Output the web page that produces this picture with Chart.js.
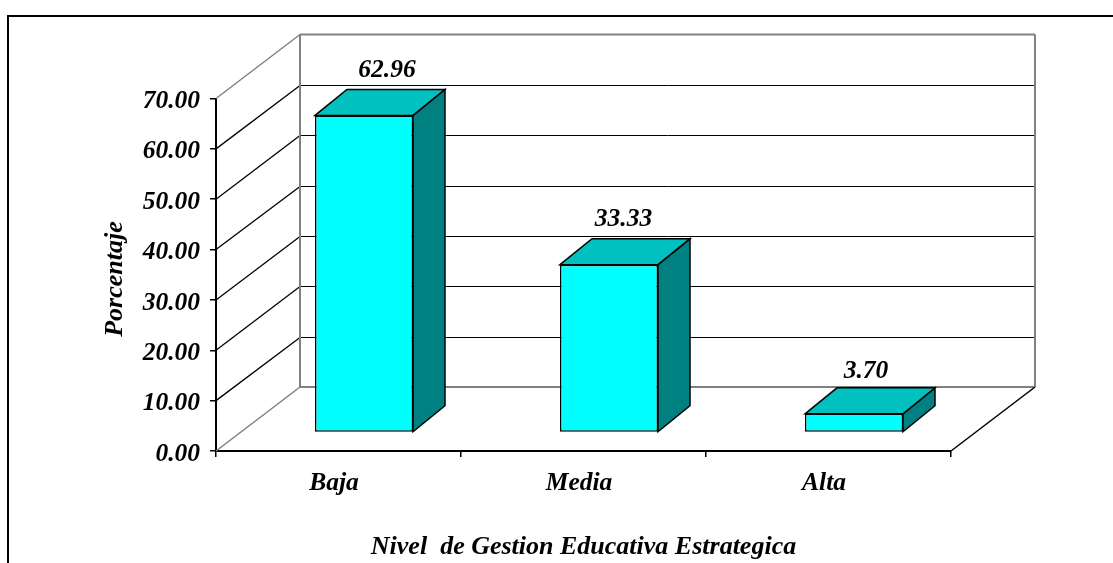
<!DOCTYPE html>
<html>
<head>
<meta charset="utf-8">
<style>
  html, body { margin: 0; padding: 0; background: #fff; overflow: hidden; }
  #wrap { position: relative; width: 1113px; height: 563px; }
</style>
<script src="https://cdn.jsdelivr.net/npm/chart.js@4"></script>
</head>
<body>
<div id="wrap"><canvas id="chart" width="1113" height="563"></canvas></div>
<script>
const categories = ['Baja', 'Media', 'Alta'];
const percentages = [62.96, 33.33, 3.70];
const yTicks = [0, 10, 20, 30, 40, 50, 60, 70];

const FONT = '"Liberation Serif", "Times New Roman", serif';

// fake 3D: how far things recede from the front plane
const wallDepth = { x: 84, y: 64 };
const barShift = { x: 25.5, y: 18.5 };
const barDepth = { x: 32, y: 26 };
const labelNudge = [23, 14.5, 12];
const labelRise = [19.5, 19.5, 16];

const line = (ctx, x1, y1, x2, y2, color, width) => {
    ctx.beginPath();
    ctx.moveTo(x1, y1);
    ctx.lineTo(x2, y2);
    ctx.strokeStyle = color;
    ctx.lineWidth = width;
    ctx.stroke();
};

const poly = (ctx, pts, fill) => {
    ctx.beginPath();
    pts.forEach((p, i) => i ? ctx.lineTo(p[0], p[1]) : ctx.moveTo(p[0], p[1]));
    ctx.closePath();
    ctx.fillStyle = fill;
    ctx.fill();
    ctx.strokeStyle = '#000';
    ctx.lineWidth = 1.5;
    ctx.stroke();
};

const box3d = {
    id: 'box3d',
    beforeDraw(chart) {
        const ctx = chart.ctx;
        ctx.save();
        ctx.strokeStyle = '#000';
        ctx.lineWidth = 2;
        ctx.beginPath();
        ctx.moveTo(8, 563);
        ctx.lineTo(8, 16);
        ctx.lineTo(1113, 16);
        ctx.stroke();
        ctx.restore();
    },
    beforeDatasetsDraw(chart) {
        const { ctx, scales: { x, y } } = chart;
        const dx = wallDepth.x, dy = wallDepth.y;
        ctx.save();
        yTicks.forEach(v => {
            const py = y.getPixelForValue(v);
            if (v === yTicks[0] || v === yTicks[yTicks.length - 1]) return;
            const backY = Math.round(py - dy) + 0.5;
            line(ctx, x.left, py, x.left + dx, backY, '#000', 1.3);
            line(ctx, x.left + dx, backY, x.right + dx, backY, '#000', 1);
        });
        const top = y.getPixelForValue(70), base = y.getPixelForValue(0);
        line(ctx, x.left, top, x.left + dx, top - dy, '#808080', 1.5);
        line(ctx, x.left, base, x.left + dx, base - dy, '#808080', 1.5);
        line(ctx, x.left + dx, top - dy, x.right + dx, top - dy, '#808080', 2);
        line(ctx, x.left + dx, base - dy, x.right + dx, base - dy, '#808080', 2);
        line(ctx, x.left + dx, top - dy, x.left + dx, base - dy, '#808080', 2);
        line(ctx, x.right + dx, top - dy, x.right + dx, base - dy, '#808080', 2);
        line(ctx, x.right, base, x.right + dx, base - dy, '#000', 1.5);
        ctx.restore();
    },
    beforeDatasetDraw(chart, args) {
        const ctx = chart.ctx;
        ctx.save();
        ctx.translate(barShift.x, -barShift.y);
        // side and top faces go under the library's front face
        args.meta.data.forEach(bar => {
            const l = bar.x - bar.width / 2, r = bar.x + bar.width / 2;
            const t = bar.y, b = bar.base;
            const ox = barDepth.x, oy = barDepth.y;
            poly(ctx, [[r, t], [r + ox, t - oy], [r + ox, b - oy], [r, b]], '#008080');
            poly(ctx, [[l, t], [l + ox, t - oy], [r + ox, t - oy], [r, t]], '#00C0C0');
        });
    },
    afterDatasetDraw(chart) {
        chart.ctx.restore();
    },
    afterDatasetsDraw(chart) {
        const ctx = chart.ctx;
        const meta = chart.getDatasetMeta(0);
        ctx.save();
        ctx.font = 'italic bold 25.5px ' + FONT;
        ctx.fillStyle = '#000';
        ctx.textAlign = 'center';
        ctx.textBaseline = 'middle';
        meta.data.forEach((bar, i) => {
            ctx.fillText(percentages[i].toFixed(2),
                bar.x + barShift.x + labelNudge[i],
                bar.y - barShift.y - barDepth.y - labelRise[i]);
        });
        // y title sits a bit below the axis centre, the scale title can't do that
        ctx.font = 'italic bold 26px ' + FONT;
        ctx.translate(115, 279);
        ctx.rotate(-Math.PI / 2);
        ctx.fillText('Porcentaje', 0, 0);
        ctx.restore();
    }
};

new Chart(document.getElementById('chart'), {
    type: 'bar',
    data: {
        labels: categories,
        datasets: [{
            data: percentages,
            backgroundColor: '#00FFFF',
            borderColor: '#000',
            borderWidth: 1.5,
            borderSkipped: false,
            barPercentage: 0.4,
            categoryPercentage: 1,
            clip: false
        }]
    },
    options: {
        responsive: false,
        animation: false,
        layout: { padding: { left: 98, right: 162, top: 98.5, bottom: 0 } },
        plugins: { legend: { display: false }, tooltip: { enabled: false } },
        scales: {
            x: {
                afterFit: s => { s.height = 112; },
                grid: { drawOnChartArea: false, drawTicks: true, tickLength: 6, color: '#000', lineWidth: 1.5 },
                border: { color: '#000', width: 2 },
                ticks: {
                    color: '#000', padding: 11, labelOffset: -4.5, maxRotation: 0,
                    font: { family: FONT, size: 25.5, style: 'italic', weight: 'bold' }
                },
                title: {
                    display: true,
                    text: 'Nivel  de Gestion Educativa Estrategica',
                    color: '#000',
                    padding: 0,
                    font: { family: FONT, size: 26, style: 'italic', weight: 'bold' }
                }
            },
            y: {
                min: 0,
                max: 70,
                afterFit: s => { s.width = 118; },
                afterBuildTicks: s => { s.ticks = yTicks.map(v => ({ value: v })); },
                grid: { drawOnChartArea: false, drawTicks: true, tickLength: 6, color: '#000', lineWidth: 1.5 },
                border: { color: '#000', width: 2 },
                ticks: {
                    color: '#000', padding: 10, labelOffset: 3,
                    callback: v => v.toFixed(2),
                    font: { family: FONT, size: 25.5, style: 'italic', weight: 'bold' }
                }
            }
        }
    },
    plugins: [box3d]
});
</script>
</body>
</html>
